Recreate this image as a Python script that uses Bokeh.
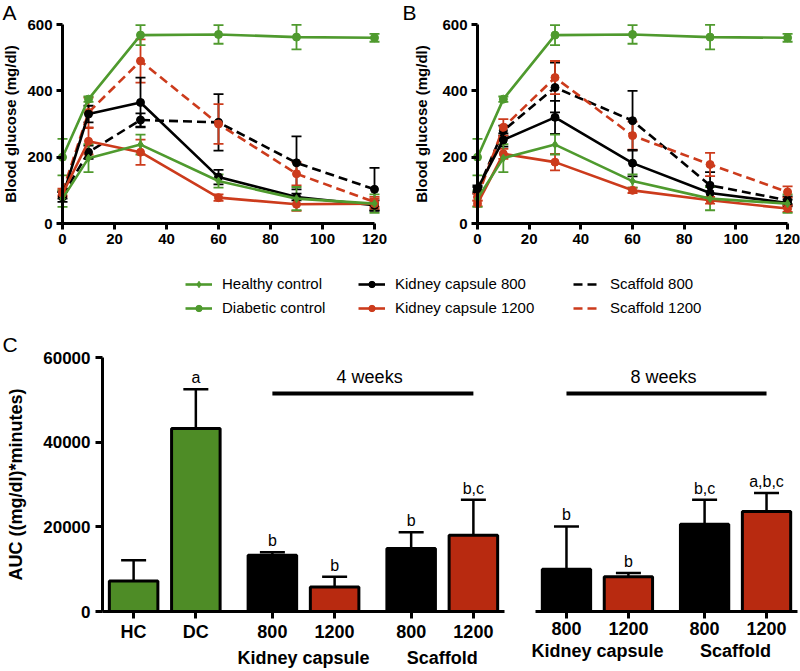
from bokeh.plotting import figure
from bokeh.models import (ColumnDataSource, Whisker, TeeHead, Range1d, FactorRange,
                          Legend, LegendItem, Label)
from bokeh.layouts import column, row
from bokeh.embed import file_html
from bokeh.resources import INLINE
from bokeh.core.properties import value

FONT = "Liberation Sans"
GREEN = "#4f9a2e"
RED = "#cc3b1c"
BLACK = "#000000"
BAR_GREEN = "#4e8c26"
BAR_RED = "#b82a10"
NAN = float("nan")

# ---------------- data: glucose tolerance curves ----------------
time_min = [0, 10, 30, 60, 90, 120]

healthy = [75, 197, 238, 128, 75, 60]
healthy_err = [25, 42, 30, 20, 35, 28]
diabetic = [200, 375, 568, 570, 562, 560]
diabetic_err = [55, 8, 30, 28, 37, 12]

a_kc800 = [80, 330, 365, 140, 80, 55]
a_kc800_err = [15, 25, 75, 22, 10, 15]
a_kc1200 = [90, 248, 215, 78, 58, 60]
a_kc1200_err = [10, 40, 38, 10, 20, 15]
a_sc800 = [85, 215, 312, 305, 183, 103]
a_sc800_err = [10, 20, 20, 85, 80, 65]
a_sc1200 = [95, 335, 490, 300, 150, 65]
a_sc1200_err = [10, 45, 65, 60, 35, 15]

b_kc800 = [105, 252, 320, 182, 92, 62]
b_kc800_err = [10, 20, 50, 40, 20, 10]
b_kc1200 = [60, 210, 185, 100, 70, 45]
b_kc1200_err = [8, 15, 25, 8, 10, 10]
b_sc800 = [100, 280, 410, 310, 115, 70]
b_sc800_err = [10, 15, 75, 90, 40, 12]
b_sc1200 = [80, 290, 440, 265, 178, 95]
b_sc1200_err = [10, 25, 50, 42, 35, 17]

x_ticks = [0, 20, 40, 60, 80, 100, 120]
y_ticks = [0, 200, 400, 600]

# ---------------- data: AUC bars ----------------
groups_4w = ["", "", "Kidney capsule", "Kidney capsule", "Scaffold", "Scaffold"]
labels_4w = ["HC", "DC", "800", "1200", "800", "1200"]
auc_4w = [7200, 43200, 13300, 5800, 14900, 18000]
auc_4w_err = [4900, 9300, 700, 2400, 3800, 8400]
letters_4w = ["", "a", "b", "b", "b", "b,c"]
colors_4w = [BAR_GREEN, BAR_GREEN, BLACK, BAR_RED, BLACK, BAR_RED]

groups_8w = ["Kidney capsule", "Kidney capsule", "Scaffold", "Scaffold"]
labels_8w = ["800", "1200", "800", "1200"]
auc_8w = [10000, 8200, 20600, 23600]
auc_8w_err = [10100, 900, 5800, 4400]
letters_8w = ["b", "b", "b,c", "a,b,c"]
colors_8w = [BLACK, BAR_RED, BLACK, BAR_RED]

auc_ticks = [0, 20000, 40000, 60000]
bracket_y = 51500


def curve_panel(label, series, x_range, y_range, title_standoff):
    p = figure(width=400, height=250, x_range=x_range, y_range=y_range,
               output_backend="svg", toolbar_location=None, min_border=0)
    p.outline_line_color = None
    p.grid.visible = False
    for ax in (p.xaxis[0], p.yaxis[0]):
        ax.fixed_location = 0
        ax.axis_line_width = 3
        ax.major_tick_line_width = 3
        ax.major_tick_out = 6
        ax.major_tick_in = 0
        ax.minor_tick_line_color = None
        ax.major_label_text_font = FONT
        ax.major_label_text_font_style = "bold"
        ax.major_label_text_font_size = "15px"
        ax.major_label_text_color = BLACK
        ax.major_label_standoff = 4
    p.xaxis.ticker = x_ticks
    p.xaxis.bounds = (0, 120)
    p.yaxis.ticker = y_ticks
    p.yaxis.bounds = (0, 600)
    p.yaxis.axis_label = "Blood glucose (mg/dl)"
    p.yaxis.axis_label_text_font = FONT
    p.yaxis.axis_label_text_font_style = "bold"
    p.yaxis.axis_label_text_font_size = "15px"
    p.yaxis.axis_label_text_color = BLACK
    p.yaxis.axis_label_standoff = title_standoff
    for ys, errs, color, dash, marker, msize in series:
        src = ColumnDataSource(dict(t=time_min, y=ys,
                                    lo=[v - e for v, e in zip(ys, errs)],
                                    hi=[v + e for v, e in zip(ys, errs)]))
        p.add_layout(Whisker(base="t", lower="lo", upper="hi", source=src,
                             line_color=color, line_width=1.8,
                             upper_head=TeeHead(size=10, line_color=color, line_width=1.8),
                             lower_head=TeeHead(size=10, line_color=color, line_width=1.8)))
        p.line("t", "y", source=src, line_color=color, line_width=2.6, line_dash=dash)
        p.scatter("t", "y", source=src, marker=marker, size=msize,
                  fill_color=color, line_color=color)
    p.add_layout(Label(x=x_range.start, y=y_range.end, x_offset=2, y_offset=0,
                       text=label, text_font=FONT, text_font_size="21px",
                       text_color=BLACK, text_baseline="top", text_align="left"))
    return p


series_a = [
    (a_sc800, a_sc800_err, BLACK, "9 5", "circle", 8),
    (a_sc1200, a_sc1200_err, RED, "9 5", "circle", 8),
    (a_kc800, a_kc800_err, BLACK, "solid", "circle", 8),
    (a_kc1200, a_kc1200_err, RED, "solid", "circle", 8),
    (healthy, healthy_err, GREEN, "solid", "diamond", 8),
    (diabetic, diabetic_err, GREEN, "solid", "circle", 8),
]
series_b = [
    (b_sc800, b_sc800_err, BLACK, "9 5", "circle", 8),
    (b_sc1200, b_sc1200_err, RED, "9 5", "circle", 8),
    (b_kc800, b_kc800_err, BLACK, "solid", "circle", 8),
    (b_kc1200, b_kc1200_err, RED, "solid", "circle", 8),
    (healthy, healthy_err, GREEN, "solid", "diamond", 8),
    (diabetic, diabetic_err, GREEN, "solid", "circle", 8),
]

pa = curve_panel("A", series_a, Range1d(-23.85, 130.0), Range1d(-81.4, 672.4), 5)
pb = curve_panel("B", series_b, Range1d(-29.8, 125.0), Range1d(-81.4, 672.4), 9)

# ---------------- legend strip ----------------
pl = figure(width=800, height=75, x_range=Range1d(0, 1), y_range=Range1d(0, 1),
            output_backend="svg", toolbar_location=None,
            x_axis_location=None, y_axis_location=None, min_border=0)
pl.outline_line_color = None
pl.grid.visible = False

legend_names = [["Healthy control", "Diabetic control"],
                ["Kidney capsule 800", "Kidney capsule 1200"],
                ["Scaffold 800", "Scaffold 1200"]]
legend_styles = [[(GREEN, "solid", "diamond"), (GREEN, "solid", "circle")],
                 [(BLACK, "solid", "circle"), (RED, "solid", "circle")],
                 [(BLACK, "9 5", None), (RED, "9 5", None)]]
legend_x = [185, 358, 573]
for names, styles, lx in zip(legend_names, legend_styles, legend_x):
    items = []
    for name, (color, dash, marker) in zip(names, styles):
        rs = [pl.line(x=[NAN], y=[NAN], line_color=color, line_width=2.6, line_dash=dash)]
        if marker:
            rs.append(pl.scatter(x=[NAN], y=[NAN], marker=marker, size=7,
                                 fill_color=color, line_color=color))
        items.append(LegendItem(label=name, renderers=rs))
    lg = Legend(items=items, location=(lx, 9), orientation="vertical",
                glyph_width=27, glyph_height=16, label_height=16, spacing=7,
                label_standoff=10, padding=0, margin=0,
                border_line_color=None, background_fill_alpha=0,
                label_text_font=FONT, label_text_font_size="15px",
                label_text_color=BLACK)
    pl.add_layout(lg)

# ---------------- AUC bar panels ----------------
auc_range = Range1d(0, 60000)


def bar_panel(groups, labels, vals, errs, letters, colors, width, min_left, min_right,
              yaxis, period):
    factors = list(zip(groups, labels))
    p = figure(width=width, height=345,
               x_range=FactorRange(*factors, group_padding=0.23, range_padding=0),
               y_range=auc_range, output_backend="svg", toolbar_location=None,
               min_border_left=min_left, min_border_right=min_right,
               min_border_top=32, min_border_bottom=56,
               y_axis_location="left" if yaxis else None)
    p.outline_line_color = None
    p.grid.visible = False
    src = ColumnDataSource(dict(cat=factors, v=vals,
                                hi=[v + e for v, e in zip(vals, errs)],
                                letter=letters, color=colors))
    p.add_layout(Whisker(base="cat", lower="v", upper="hi", source=src, level="underlay",
                         line_color=BLACK, line_width=2.5, lower_head=None,
                         upper_head=TeeHead(size=25, line_color=BLACK, line_width=2.5)))
    p.vbar(x="cat", top="v", width=0.78, source=src, fill_color="color",
           line_color=BLACK, line_width=3)
    p.text(x="cat", y="hi", text="letter", source=src, text_align="center",
           text_baseline="bottom", y_offset=-3, text_font=value(FONT),
           text_font_size="16px", text_color=BLACK)
    # time bracket across the transplanted groups
    p.segment(x0=[factors[-4]], y0=[bracket_y], x1=[factors[-1]], y1=[bracket_y],
              line_color=BLACK, line_width=4)
    p.text(x=[factors[-3]], y=[bracket_y], text=[period],
           x_offset=35, y_offset=-6, text_align="center", text_baseline="bottom",
           text_font=value(FONT), text_font_size="18px", text_color=BLACK)
    xa = p.xaxis[0]
    xa.axis_line_width = 3
    xa.major_tick_line_width = 3
    xa.major_tick_out = 7
    xa.major_tick_in = 0
    xa.minor_tick_line_color = None
    xa.major_label_text_font = FONT
    xa.major_label_text_font_style = "bold"
    xa.major_label_text_font_size = "18px"
    xa.major_label_text_color = BLACK
    xa.major_label_standoff = 3
    xa.group_text_font = FONT
    xa.group_text_font_style = "bold"
    xa.group_text_font_size = "18px"
    xa.group_text_color = BLACK
    xa.separator_line_alpha = 0
    if yaxis:
        ya = p.yaxis[0]
        ya.ticker = auc_ticks
        ya.axis_line_width = 3
        ya.major_tick_line_width = 3
        ya.major_tick_out = 7
        ya.major_tick_in = 0
        ya.minor_tick_line_color = None
        ya.major_label_text_font = FONT
        ya.major_label_text_font_style = "bold"
        ya.major_label_text_font_size = "17px"
        ya.major_label_text_color = BLACK
        ya.major_label_standoff = 5
        ya.axis_label = "AUC ((mg/dl)*minutes)"
        ya.axis_label_text_font = FONT
        ya.axis_label_text_font_style = "bold"
        ya.axis_label_text_font_size = "18px"
        ya.axis_label_text_color = BLACK
        ya.axis_label_standoff = 14
        p.title.text = "C"
        p.title.align = "left"
        p.title.offset = -min_left + 2
        p.title.standoff = 4
        p.title.text_font = FONT
        p.title.text_font_style = "normal"
        p.title.text_font_size = "21px"
        p.title.text_color = BLACK
    return p


pc1 = bar_panel(groups_4w, labels_4w, auc_4w, auc_4w_err, letters_4w, colors_4w,
                515, 102, 11, True, "4 weeks")
pc2 = bar_panel(groups_8w, labels_8w, auc_8w, auc_8w_err, letters_8w, colors_8w,
                285, 20, 3, False, "8 weeks")

layout = column(row(pa, pb), pl, row(pc1, pc2))
open("out.html", "w").write(file_html(layout, INLINE))
